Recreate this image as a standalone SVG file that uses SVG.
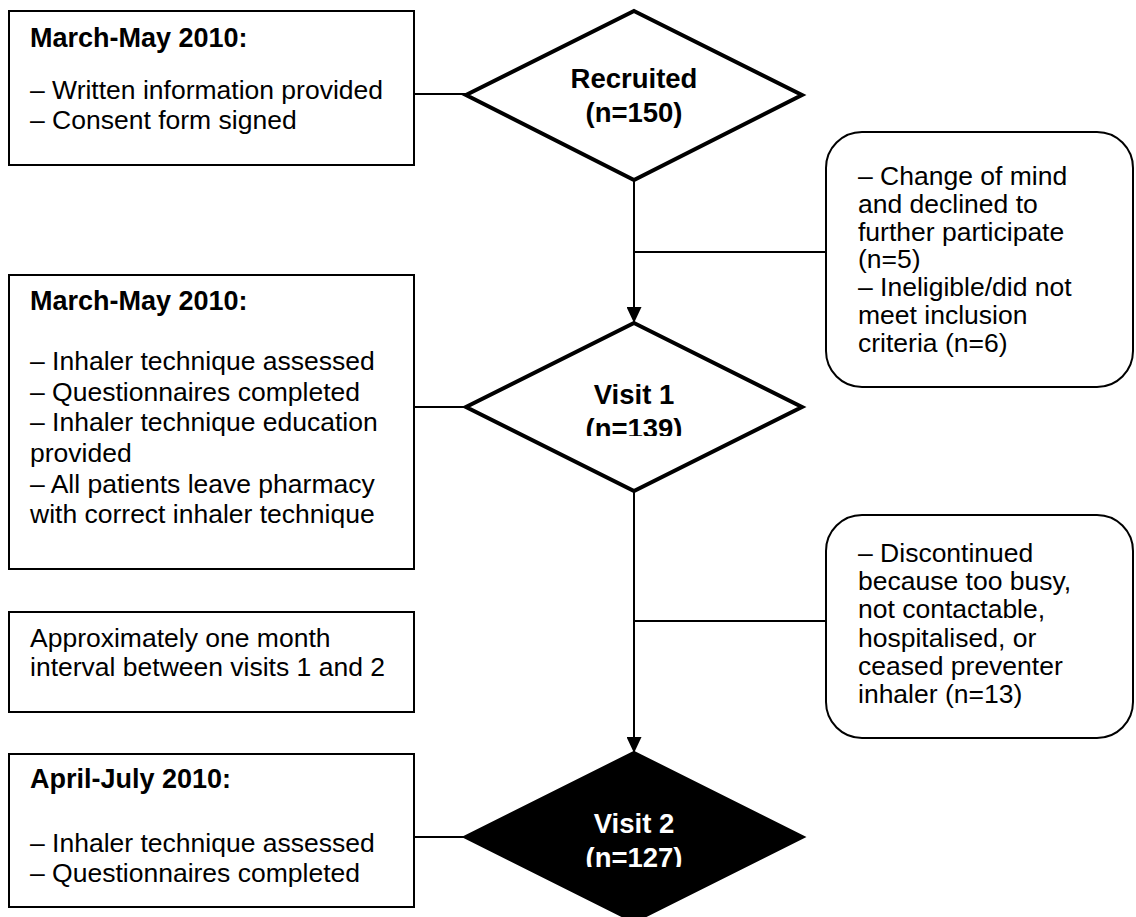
<svg xmlns="http://www.w3.org/2000/svg" width="1136" height="917" viewBox="0 0 1136 917">
  <defs>
    <marker id="arrow" markerUnits="userSpaceOnUse" markerWidth="16" markerHeight="15" refX="16" refY="7.5" orient="auto">
      <path d="M0,0 L16,7.5 L0,15 z" fill="#000"/>
    </marker>
    <clipPath id="clipV1"><rect x="466" y="323" width="336" height="113"/></clipPath>
    <clipPath id="clipV2"><rect x="466" y="753" width="336" height="114"/></clipPath>
  </defs>
  <style>
    .box { fill: #fff; stroke: #000; stroke-width: 2; }
    .round { fill: #fff; stroke: #000; stroke-width: 2; }
    .dia { fill: #fff; stroke: #000; stroke-width: 4; stroke-linejoin: miter; }
    .dia-dark { fill: #000; stroke: #000; stroke-width: 4; }
    .conn { fill: none; stroke: #000; stroke-width: 2; }
    .txt { font-family: "Liberation Sans", Arial, Helvetica, sans-serif; font-size: 26.5px; fill: #000; }
    .hdr { font-family: "Liberation Sans", Arial, Helvetica, sans-serif; font-size: 27px; font-weight: bold; fill: #000; }
    .dtxt { font-family: "Liberation Sans", Arial, Helvetica, sans-serif; font-size: 27.5px; font-weight: bold; text-anchor: middle; fill: #000; }
    .dtxt-light { fill: #fff; }
  </style>

  <!-- connectors -->
  <g id="connectors">
    <line class="conn" x1="414" y1="94" x2="466" y2="94"/>
    <line class="conn" x1="634" y1="180" x2="634" y2="323" marker-end="url(#arrow)"/>
    <line class="conn" x1="634" y1="252" x2="826" y2="252"/>
    <line class="conn" x1="414" y1="407" x2="466" y2="407"/>
    <line class="conn" x1="634" y1="491" x2="634" y2="753" marker-end="url(#arrow)"/>
    <line class="conn" x1="634" y1="621" x2="826" y2="621"/>
    <line class="conn" x1="414" y1="837" x2="466" y2="837"/>
  </g>

  <!-- recruitment notes -->
  <g id="note-recruit">
    <rect class="box" x="9" y="11" width="405" height="154"/>
    <text class="hdr" x="30" y="47">March-May 2010:</text>
    <text class="txt"><tspan x="30" y="99">– Written information provided</tspan><tspan x="30" y="129">– Consent form signed</tspan></text>
  </g>

  <g id="recruited">
    <polygon class="dia" points="634,11 802,95 634,180 466,95"/>
    <text class="dtxt"><tspan x="634" y="88">Recruited</tspan><tspan x="634" y="122">(n=150)</tspan></text>
  </g>

  <g id="dropout-1">
    <rect class="round" x="826" y="132" width="307" height="255" rx="36" ry="36"/>
    <text class="txt">
      <tspan x="858" y="185">– Change of mind</tspan>
      <tspan x="858" y="213">and declined to</tspan>
      <tspan x="858" y="241">further participate</tspan>
      <tspan x="858" y="268">(n=5)</tspan>
      <tspan x="858" y="296">– Ineligible/did not</tspan>
      <tspan x="858" y="324">meet inclusion</tspan>
      <tspan x="858" y="352">criteria (n=6)</tspan>
    </text>
  </g>

  <!-- visit 1 notes -->
  <g id="note-visit1">
    <rect class="box" x="9" y="275" width="405" height="294"/>
    <text class="hdr" x="30" y="310">March-May 2010:</text>
    <text class="txt">
      <tspan x="30" y="370">– Inhaler technique assessed</tspan>
      <tspan x="30" y="400.7">– Questionnaires completed</tspan>
      <tspan x="30" y="431.3">– Inhaler technique education</tspan>
      <tspan x="30" y="462">provided</tspan>
      <tspan x="30" y="492.7">– All patients leave pharmacy</tspan>
      <tspan x="30" y="523.3">with correct inhaler technique</tspan>
    </text>
  </g>

  <g id="visit1">
    <polygon class="dia" points="634,323 802,407 634,491 466,407"/>
    <text class="dtxt" clip-path="url(#clipV1)"><tspan x="634" y="404">Visit 1</tspan><tspan x="634" y="438">(n=139)</tspan></text>
  </g>

  <g id="dropout-2">
    <rect class="round" x="826" y="515" width="307" height="223" rx="36" ry="36"/>
    <text class="txt">
      <tspan x="858" y="562">– Discontinued</tspan>
      <tspan x="858" y="590">because too busy,</tspan>
      <tspan x="858" y="618">not contactable,</tspan>
      <tspan x="858" y="647">hospitalised, or</tspan>
      <tspan x="858" y="675">ceased preventer</tspan>
      <tspan x="858" y="703">inhaler (n=13)</tspan>
    </text>
  </g>

  <g id="note-interval">
    <rect class="box" x="9" y="612" width="405" height="100"/>
    <text class="txt"><tspan x="30" y="647">Approximately one month</tspan><tspan x="30" y="676">interval between visits 1 and 2</tspan></text>
  </g>

  <!-- visit 2 notes -->
  <g id="note-visit2">
    <rect class="box" x="9" y="754" width="405" height="153"/>
    <text class="hdr" x="30" y="788">April-July 2010:</text>
    <text class="txt"><tspan x="30" y="852">– Inhaler technique assessed</tspan><tspan x="30" y="882">– Questionnaires completed</tspan></text>
  </g>

  <g id="visit2">
    <polygon class="dia-dark" points="634,753 802,837 634,921 466,837"/>
    <text class="dtxt dtxt-light" clip-path="url(#clipV2)"><tspan x="634" y="833">Visit 2</tspan><tspan x="634" y="867">(n=127)</tspan></text>
  </g>
</svg>
